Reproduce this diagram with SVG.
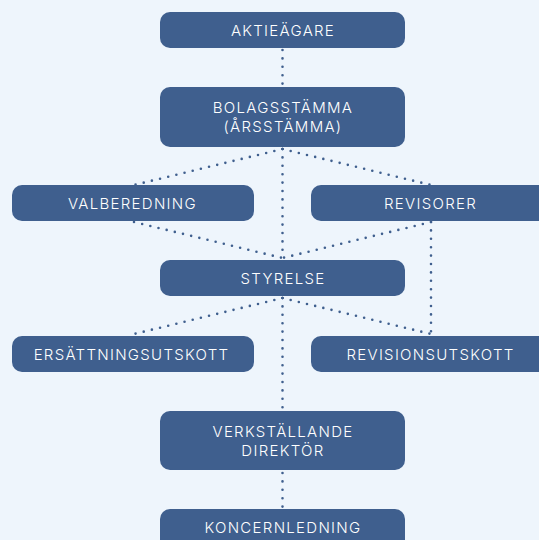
<svg xmlns="http://www.w3.org/2000/svg" width="539" height="540" viewBox="0 0 539 540">
<style>
.bg{fill:#eef5fc}
.node rect{fill:#3f5f8e}
.node text{fill:#ffffff;font-family:"Inter","Noto Sans","Liberation Sans",sans-serif;font-weight:300;font-size:15px;letter-spacing:1.3px;text-anchor:middle;dominant-baseline:central}
.conn line{stroke:#3f5f8e;stroke-width:2.6;stroke-linecap:round;stroke-dasharray:0 8.4;fill:none}
</style>
<rect class="bg" x="0" y="0" width="539" height="540"/>
<g id="connectors" class="conn">
<line x1="282.5" y1="50" x2="282.5" y2="86"/>
<line x1="282.5" y1="149" x2="282.5" y2="258"/>
<line x1="282.5" y1="149" x2="134" y2="185"/>
<line x1="282.5" y1="149" x2="431" y2="185"/>
<line x1="134" y1="222" x2="282.5" y2="258"/>
<line x1="431" y1="222" x2="282.5" y2="258"/>
<line x1="431" y1="222" x2="431" y2="333"/>
<line x1="282.5" y1="298" x2="134" y2="334"/>
<line x1="282.5" y1="298" x2="431" y2="334"/>
<line x1="282.5" y1="298" x2="282.5" y2="408"/>
<line x1="282.5" y1="473" x2="282.5" y2="507"/>
</g>
<g id="aktieagare" class="node"><rect x="160" y="12" width="245" height="36" rx="10"/><text x="283" y="30.5">AKTIEÄGARE</text></g>
<g id="bolagsstamma" class="node"><rect x="160" y="87" width="245" height="60" rx="10"/><text x="283" y="107.5">BOLAGSSTÄMMA</text><text x="283" y="126.5">(ÅRSSTÄMMA)</text></g>
<g id="valberedning" class="node"><rect x="12" y="185" width="242" height="36" rx="10"/><text x="132.5" y="203.5">VALBEREDNING</text></g>
<g id="revisorer" class="node"><rect x="311" y="185" width="242" height="36" rx="10"/><text x="430.5" y="203.5">REVISORER</text></g>
<g id="styrelse" class="node"><rect x="160" y="260" width="245" height="36" rx="10"/><text x="283" y="278.5">STYRELSE</text></g>
<g id="ersattningsutskott" class="node"><rect x="12" y="336" width="242" height="36" rx="10"/><text x="131.5" y="354">ERSÄTTNINGSUTSKOTT</text></g>
<g id="revisionsutskott" class="node"><rect x="311" y="336" width="242" height="36" rx="10"/><text x="430.5" y="354">REVISIONSUTSKOTT</text></g>
<g id="vd" class="node"><rect x="160" y="411" width="245" height="59" rx="10"/><text x="283" y="431.5">VERKSTÄLLANDE</text><text x="283" y="450.5">DIREKTÖR</text></g>
<g id="koncernledning" class="node"><rect x="160" y="509" width="245" height="40" rx="10"/><text x="283" y="527">KONCERNLEDNING</text></g>
</svg>
